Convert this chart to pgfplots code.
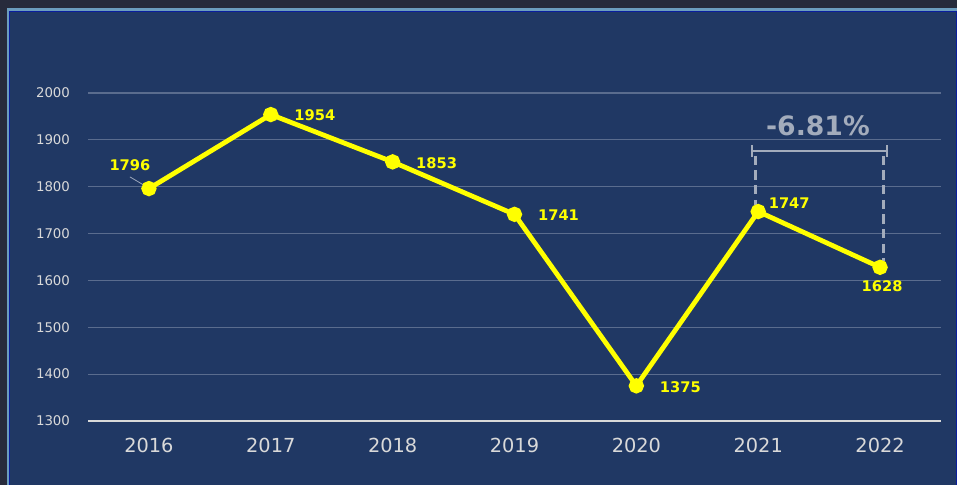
\documentclass[border=0pt]{standalone}
\usepackage{fontspec}
\setmainfont{DejaVu Sans}
\usepackage{pgfplots}
\pgfplotsset{compat=1.18}

\definecolor{navy}{HTML}{203864}
\definecolor{outerc}{HTML}{272B3C}
\definecolor{lightb}{HTML}{6C9DBE}
\definecolor{darkb}{HTML}{0A1E9E}
\definecolor{gridc}{HTML}{5A6C8E}
\definecolor{tickc}{HTML}{D9D9D9}
\definecolor{yel}{HTML}{FFFF00}
\definecolor{annc}{HTML}{A3ACBC}

\pgfplotstableread{
x y
0 1796
1 1954
2 1853
3 1741
4 1375
5 1747
6 1628
}\sales

\begin{document}
\begin{tikzpicture}[x=0.75pt,y=0.75pt]
\useasboundingbox (0,0) rectangle (957,485);
\fill[outerc] (0,0) rectangle (957,485);
\fill[lightb] (7,-5) rectangle (960,477);
\fill[darkb] (9,-5) rectangle (960,474);
\fill[navy] (10,-5) rectangle (956,473);

\begin{axis}[
 at={(66pt,48pt)},anchor=south west,
 scale only axis,width=639.75pt,height=246pt,
 xmin=-0.5,xmax=6.5,ymin=1300,ymax=2000,
 xtick={0,...,6},
 xticklabels={2016,2017,2018,2019,2020,2021,2022},
 ytick={1300,1400,...,2000},
 ymajorgrids,grid style={draw=gridc,line width=0.8pt},
 axis line style={draw=none},major tick length=0pt,
 tick label style={text=tickc},
 yticklabel style={font=\fontsize{10}{12}\selectfont,xshift=-10pt},
 xticklabel style={font=\fontsize{14.5}{17}\selectfont,yshift=-9pt},
 /pgf/number format/assume math mode=true,
 /pgf/number format/set thousands separator={},
 clip=false,
]
\draw[tickc,line width=0.9pt] (axis cs:-0.5,1300) -- (axis cs:6.5,1300);

% change bracket
\draw[annc,line width=2pt,dash pattern=on 7pt off 4pt] (axis cs:4.98,1866) -- (axis cs:4.98,1762);
\draw[annc,line width=2pt,dash pattern=on 7pt off 4pt] (axis cs:6.03,1866) -- (axis cs:6.03,1642);
\draw[annc,line width=2pt] (axis cs:4.95,1876) -- (axis cs:6.06,1876);
\draw[annc,line width=1.4pt] (axis cs:4.95,1864) -- (axis cs:4.95,1888);
\draw[annc,line width=1.4pt] (axis cs:6.06,1864) -- (axis cs:6.06,1888);
\node[annc,font=\fontsize{20}{23}\selectfont\bfseries] at (axis cs:5.49,1930) {-6.81\%};

% leader line for first label
\draw[gridc!60!white,line width=0.6pt] (axis cs:-0.156,1821) -- (axis cs:-0.02,1800);

\addplot[yel,line width=3.6pt,mark=*,mark size=3.9pt,
 mark options={solid,fill=yel,draw=none},
 point meta=explicit symbolic,
 nodes near coords,
 nodes near coords style={anchor=center,text=yel,
   font=\fontsize{11}{13}\selectfont\bfseries,
   xshift=33pt,yshift=-0.75pt},
 coordinate style/.condition={\coordindex==0}{xshift=-47.25pt,yshift=18pt},
 coordinate style/.condition={\coordindex==5}{xshift=-9.75pt,yshift=6.75pt},
 coordinate style/.condition={\coordindex==6}{xshift=-31.5pt,yshift=-13.5pt},
] table[x=x,y=y,meta=y] {\sales};
\end{axis}
\end{tikzpicture}
\end{document}
